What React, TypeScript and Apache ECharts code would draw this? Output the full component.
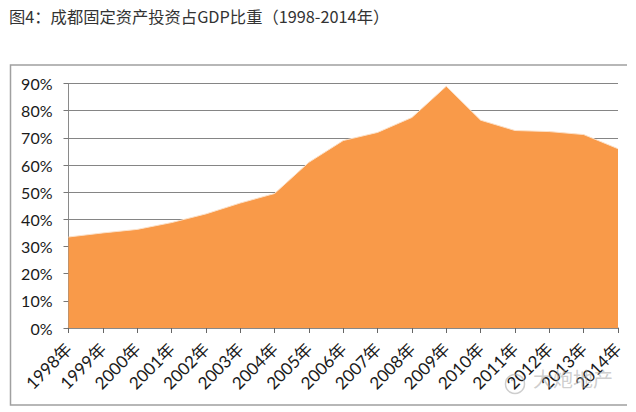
import React, { useEffect, useRef } from "react";
import * as echarts from "echarts";

const years = ["1998年","1999年","2000年","2001年","2002年","2003年","2004年","2005年","2006年","2007年","2008年","2009年","2010年","2011年","2012年","2013年","2014年"];
const shares = [33.5,35,36.3,38.8,42,46,49.5,61,69,72,77.5,89,76.5,72.7,72.3,71.2,66];
const yTicks = [0,10,20,30,40,50,60,70,80,90];
const titleText = "图4：成都固定资产投资占GDP比重（1998-2014年）";
const watermarkText = "大炮地产";

const latin = "Lato, 'Noto Sans CJK SC', sans-serif";
const wm = "rgba(165,165,165,0.55)";

export default function App() {
  const ref = useRef<HTMLDivElement>(null);
  useEffect(() => {
    const chart = echarts.init(ref.current!, null, { renderer: "svg" });
    chart.setOption({
      animation: false,
      backgroundColor: "#ffffff",
      grid: { left: 68.5, top: 83.5, width: 549.5, height: 244.5, containLabel: false },
      xAxis: {
        type: "category",
        boundaryGap: false,
        data: years,
        axisLine: { lineStyle: { color: "#8a8a8a", width: 1.5 } },
        axisTick: { show: true, length: 5, inside: false, lineStyle: { color: "#666" }, alignWithLabel: true },
        axisLabel: { interval: 0, rotate: 45, fontSize: 17, color: "#1a1a1a", fontFamily: latin, margin: 18 },
        splitLine: { show: false },
      },
      yAxis: {
        type: "value",
        min: 0,
        max: 90,
        interval: 10,
        axisLine: { show: true, lineStyle: { color: "#8a8a8a", width: 1 } },
        axisTick: { show: true, length: 5, lineStyle: { color: "#777" } },
        axisLabel: {
          fontSize: 16,
          color: "#1a1a1a",
          fontFamily: latin,
          margin: 16,
          formatter: (v: number) => (yTicks.includes(v) ? v + "%" : ""),
        },
        splitLine: { show: true, lineStyle: { color: "#858585", width: 1 } },
      },
      series: [
        {
          type: "line",
          data: shares,
          symbol: "none",
          lineStyle: { color: "#fbe0c8", width: 1 },
          areaStyle: { color: "#F99A49", opacity: 1 },
          z: 3,
        },
      ],
      graphic: [
        { type: "text", x: 9, y: 8, style: { text: titleText, font: "16.3px 'Noto Sans CJK SC', sans-serif", fill: "#333" } },
        { type: "polyline", z: -1, shape: { points: [[627, 65], [10.5, 65], [10.5, 405], [627, 405]] }, style: { fill: "none", stroke: "#a0a0a0", lineWidth: 1.5 } },
        { type: "text", z: 10, x: 533, y: 368, style: { text: watermarkText, font: "20px 'Noto Sans CJK SC', sans-serif", fill: wm } },
        { type: "circle", z: 10, shape: { cx: 515, cy: 384, r: 9.5 }, style: { fill: "none", stroke: wm, lineWidth: 1.5 } },
        { type: "circle", z: 10, shape: { cx: 512, cy: 380, r: 1.2 }, style: { fill: wm } },
      ],
    });
    return () => chart.dispose();
  }, []);
  return <div ref={ref} style={{ width: 636, height: 412, position: "absolute", left: 0, top: 0 }} />;
}
